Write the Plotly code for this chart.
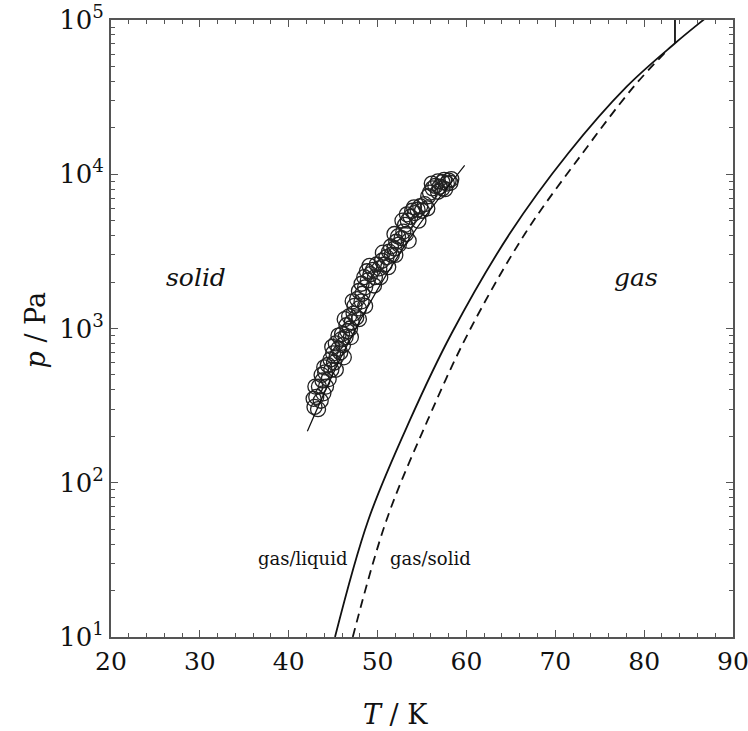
import plotly.graph_objects as go

# ---- data ----
# gas/liquid coexistence (solid line)
gl_T = [45.21, 48.96, 53.65, 58.34, 64.90, 71.46, 78.03, 83.47, 86.65, 87.1]
gl_p = [10, 57.4, 255.3, 931, 4140, 13680, 36980, 70630, 100000, 105000]

# gas/solid coexistence (dashed line)
gs_T = [47.21, 51.01, 55.65, 60.19, 66.62, 73.06, 78.83, 82.55]
gs_p = [10, 57.4, 255.3, 931, 4140, 13680, 36980, 63100]

# solid/liquid (melting) line above the triple point
sl_T = [83.47, 83.47]
sl_p = [70630, 100000]

# fit through the measured points (thin line)
fit_T = [42.1, 46.0, 50.0, 54.0, 59.8]
fit_p = [216, 672, 1792, 4137, 11400]

# measured points (open circles)
meas_T = [42.9, 43.3, 43.1, 43.6, 43.4, 43.9, 43.8, 44.2, 44.1, 44.5, 44.4, 44.8, 44.7,
          45.1, 45.0, 45.4, 45.6, 45.3, 45.8, 45.9, 46.1, 46.0, 46.4, 46.6,
          46.5, 46.9, 47.1, 46.8, 47.3, 47.6, 47.4, 47.9, 47.7, 48.2,
          47.9, 48.3, 48.2, 48.6, 48.5, 48.9, 48.8, 49.2, 49.1, 49.5, 49.7, 49.9, 50.2, 50.5, 50.8, 51.0,
          51.3, 51.6, 51.5, 51.9, 52.1, 52.4, 52.3, 52.7, 52.9, 53.2,
          53.1, 53.4, 53.3, 53.7, 53.9, 54.2, 54.1, 54.5, 54.8, 55.0, 55.3,
          55.9, 56.2, 56.1, 56.5, 56.8, 57.0, 57.3, 57.5, 57.8, 58.0, 58.2, 57.6,
          43.0, 42.8, 44.0, 43.7, 45.3, 44.9, 46.2, 45.6, 47.0, 46.3, 47.9, 47.2, 48.6,
          49.6, 50.3, 51.2, 50.6, 52.0, 51.9, 53.5, 52.8, 54.6, 55.6, 55.7, 56.8, 57.3, 58.3]
meas_p = [310, 300, 360, 340, 420, 380, 460, 420, 520, 470, 580, 540, 630,
          600, 690, 660, 740, 800, 700, 850, 780, 920, 880, 960,
          1050, 1000, 1100, 1200, 1250, 1180, 1400, 1350, 1550, 1500,
          1750, 1680, 1950, 1850, 2150, 2050, 2350, 2250, 2550, 2400, 2150, 2600, 2450, 2750, 2600, 2900,
          3150, 3000, 3400, 3300, 3650, 3500, 3950, 3850, 4250, 4100,
          4700, 5000, 5500, 5300, 5800, 5600, 6100, 5900, 6200, 5800, 6400,
          7600, 8100, 8700, 8400, 9000, 8300, 8900, 9200, 8700, 9100, 8800, 8000,
          420, 350, 560, 500, 540, 760, 650, 900, 880, 1150, 1150, 1500, 1400,
          1900, 2150, 2500, 3100, 3000, 4100, 3700, 5000, 5000, 6000, 7200, 7700, 8100, 9300]

x_ticks = [20, 30, 40, 50, 60, 70, 80, 90]
y_ticks = [10, 100, 1000, 10000, 100000]
y_ticktext = ["10<sup>1</sup>", "10<sup>2</sup>", "10<sup>3</sup>", "10<sup>4</sup>", "10<sup>5</sup>"]

SERIF = "DejaVu Serif, Liberation Serif, serif"
INK = "#111111"
AX = "#555555"

fig = go.Figure()
fig.add_trace(go.Scatter(x=meas_T, y=meas_p, mode="markers",
                         marker=dict(symbol="circle-open", size=15, color="#222222",
                                     line=dict(width=1.3, color="#222222")),
                         showlegend=False))
fig.add_trace(go.Scatter(x=fit_T, y=fit_p, mode="lines", line=dict(color=INK, width=1.2, shape="spline"),
                         showlegend=False))
fig.add_trace(go.Scatter(x=gl_T, y=gl_p, mode="lines",
                         line=dict(color=INK, width=1.8, shape="spline", smoothing=1.0),
                         showlegend=False))
fig.add_trace(go.Scatter(x=gs_T, y=gs_p, mode="lines",
                         line=dict(color=INK, width=1.8, dash="9px,6px", shape="spline", smoothing=1.0),
                         showlegend=False))
fig.add_trace(go.Scatter(x=sl_T, y=sl_p, mode="lines", line=dict(color=INK, width=1.8),
                         showlegend=False))

ann_font = dict(family=SERIF, color=INK)
fig.add_annotation(x=29.6, y=3.33, text="<i>solid</i>", showarrow=False,
                   font=dict(size=25, **ann_font))
fig.add_annotation(x=79.1, y=3.33, text="<i>gas</i>", showarrow=False,
                   font=dict(size=25, **ann_font))
fig.add_annotation(x=41.5, y=1.51, text="gas/liquid", showarrow=False,
                   font=dict(size=18, **ann_font))
fig.add_annotation(x=55.9, y=1.51, text="gas/solid", showarrow=False,
                   font=dict(size=18, **ann_font))
# axis titles
fig.add_annotation(xref="paper", yref="paper", x=0.457, y=-0.126, yanchor="middle",
                   text="<i>T</i> / K", showarrow=False, font=dict(size=27, **ann_font))
fig.add_annotation(xref="paper", yref="paper", x=-0.121, y=0.498, xanchor="center", yanchor="middle",
                   textangle=-90, text="<i>p</i> / Pa", showarrow=False, font=dict(size=27, **ann_font))

axis_common = dict(showline=True, linecolor=AX, linewidth=2, mirror="ticks",
                   ticks="inside", ticklen=7, tickwidth=1.2, tickcolor=AX,
                   showgrid=False, zeroline=False, automargin=False,
                   ticklabeloverflow="allow")

fig.update_xaxes(range=[20, 90], tickmode="array", tickvals=x_ticks,
                 minor=dict(dtick=2, ticks="inside", ticklen=4, tickwidth=1.2, tickcolor=AX, showgrid=False),
                 tickfont=dict(family=SERIF, size=25, color=INK),
                 ticklabelstandoff=1, **axis_common)
fig.update_yaxes(type="log", range=[1, 5], tickmode="array", tickvals=y_ticks, ticktext=y_ticktext,
                 minor=dict(dtick="D1", ticks="inside", ticklen=4, tickwidth=1.2, tickcolor=AX, showgrid=False),
                 tickfont=dict(family=SERIF, size=26, color=INK),
                 ticklabelstandoff=0, **axis_common)

fig.update_layout(width=748, height=731, margin=dict(l=111, r=15, t=20, b=94),
                  plot_bgcolor="white", paper_bgcolor="white", showlegend=False)

# remove the default page margin so the 748x731 figure fills the window exactly
fig.write_html("out.html", config={"displayModeBar": False},
               post_script="document.body.style.margin='0px';")
